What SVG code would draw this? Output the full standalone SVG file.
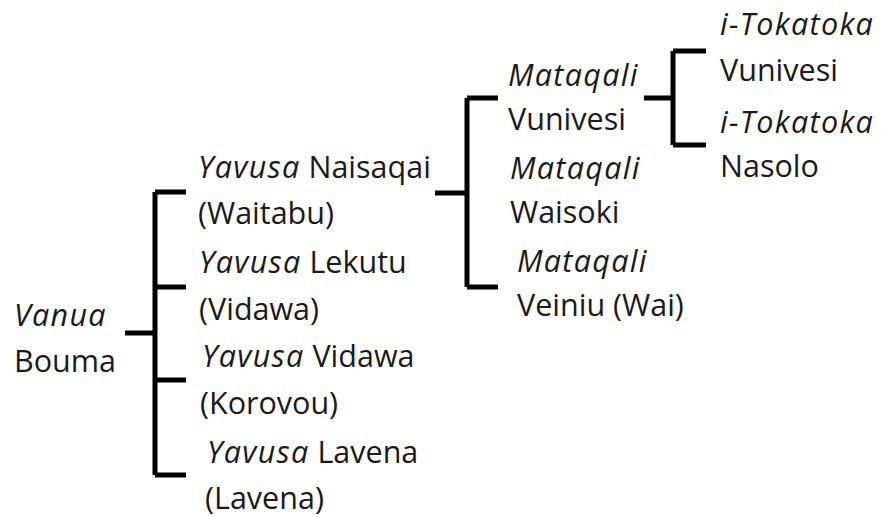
<svg xmlns="http://www.w3.org/2000/svg" width="881" height="517" viewBox="0 0 881 517">
<style>
text{font-family:"Open Sans","DejaVu Sans",sans-serif;font-size:30.5px;fill:#1a1a1a}
.i{font-style:italic;letter-spacing:1.3px}
.c{stroke:#000;stroke-width:5;fill:none}
</style>
<rect width="881" height="517" fill="#fff"/>
<g id="connectors">
<path class="c" d="M125 333H155M155 192V475M155 192H186M155 287H186M155 380H186M155 475H186"/>
<path class="c" d="M435 193H467M467 98V287M467 98H498M467 287H498"/>
<path class="c" d="M644 98H673M673 51V145M673 51H706M673 145H706"/>
</g>
<g id="vanua"><text x="14" y="326"><tspan class="i">Vanua</tspan></text><text x="14" y="372">Bouma</text></g>
<g id="naisaqai"><text x="198" y="178"><tspan class="i">Yavusa</tspan> Naisaqai</text><text x="198" y="224">(Waitabu)</text></g>
<g id="lekutu"><text x="199" y="273"><tspan class="i">Yavusa</tspan> Lekutu</text><text x="199" y="320">(Vidawa)</text></g>
<g id="vidawa"><text x="202" y="367"><tspan class="i">Yavusa</tspan> Vidawa</text><text x="200" y="414">(Korovou)</text></g>
<g id="lavena"><text x="207" y="463"><tspan class="i">Yavusa</tspan> Lavena</text><text x="205" y="509">(Lavena)</text></g>
<g id="m-vunivesi"><text x="508" y="86" class="i">Mataqali</text><text x="508" y="130">Vunivesi</text></g>
<g id="m-waisoki"><text x="510" y="179" class="i">Mataqali</text><text x="510" y="223">Waisoki</text></g>
<g id="m-veiniu"><text x="517" y="272" class="i">Mataqali</text><text x="517" y="316">Veiniu (Wai)</text></g>
<g id="t-vunivesi"><text x="720" y="35" class="i">i-Tokatoka</text><text x="720" y="81">Vunivesi</text></g>
<g id="t-nasolo"><text x="720" y="133" class="i">i-Tokatoka</text><text x="720" y="177">Nasolo</text></g>
</svg>
